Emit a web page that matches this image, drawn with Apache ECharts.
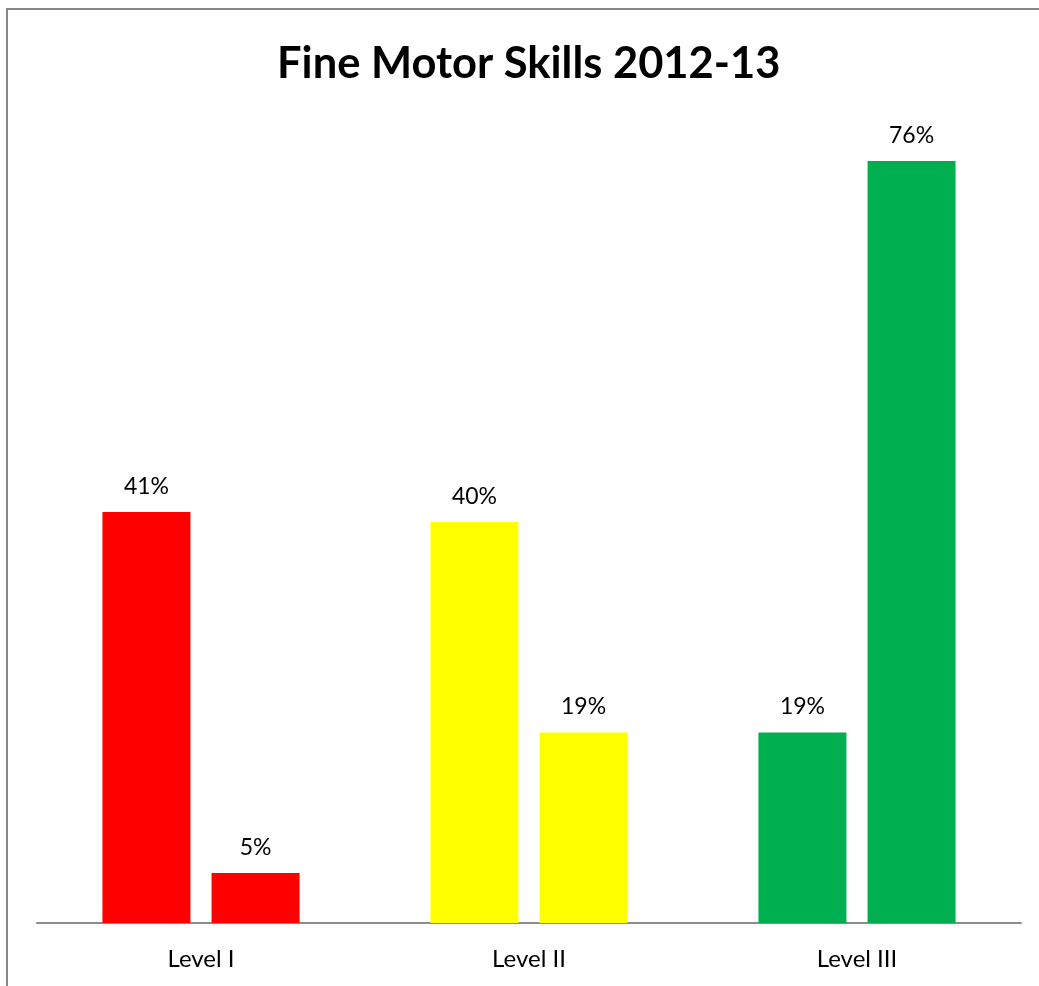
<!DOCTYPE html>
<html>
<head>
<meta charset="utf-8">
<script src="https://cdn.jsdelivr.net/npm/echarts@6/dist/echarts.min.js"></script>
<style>
  html, body { margin: 0; padding: 0; background: #fff; }
  #chart { width: 1039px; height: 986px; }
</style>
</head>
<body>
<div id="chart"></div>
<script>
// Levels and the two assessment values per level (percent)
const categories = ['Level I', 'Level II', 'Level III'];
const firstValues = [41, 40, 19];
const secondValues = [5, 19, 76];
const levelColors = ['#FF0000', '#FFFF00', '#00B050'];

const FONT = 'Lato, "Open Sans", sans-serif';

function barSeries(name, values) {
  return {
    name: name,
    type: 'bar',
    barWidth: 88,
    barGap: '24%',
    data: values.map((v, i) => ({ value: v, itemStyle: { color: levelColors[i] } })),
    label: {
      show: true,
      position: 'top',
      distance: 14,
      formatter: '{c}%',
      color: '#000',
      fontSize: 23,
      fontFamily: FONT
    }
  };
}

const chart = echarts.init(document.getElementById('chart'), null, { renderer: 'canvas' });
chart.setOption({
  animation: false,
  backgroundColor: '#fff',
  title: {
    text: 'Fine Motor Skills 2012-13',
    left: 272,
    top: 37,
    textStyle: { fontSize: 43.5, fontWeight: 'bold', color: '#000', fontFamily: FONT }
  },
  graphic: [{
    type: 'rect',
    shape: { x: 7, y: 9, width: 1100, height: 1100 },
    style: { fill: 'none', stroke: '#888', lineWidth: 2 },
    silent: true
  }],
  grid: { left: 37, right: 18, top: 121, bottom: 63 },
  xAxis: {
    type: 'category',
    data: categories,
    axisLine: { lineStyle: { color: '#8c8c8c', width: 2 } },
    axisTick: { show: false },
    axisLabel: { color: '#000', fontSize: 24, fontFamily: FONT, margin: 24 }
  },
  yAxis: {
    type: 'value',
    min: 0,
    max: 80,
    show: false,
    splitLine: { show: false }
  },
  series: [barSeries('2012', firstValues), barSeries('2013', secondValues)]
});
</script>
</body>
</html>
